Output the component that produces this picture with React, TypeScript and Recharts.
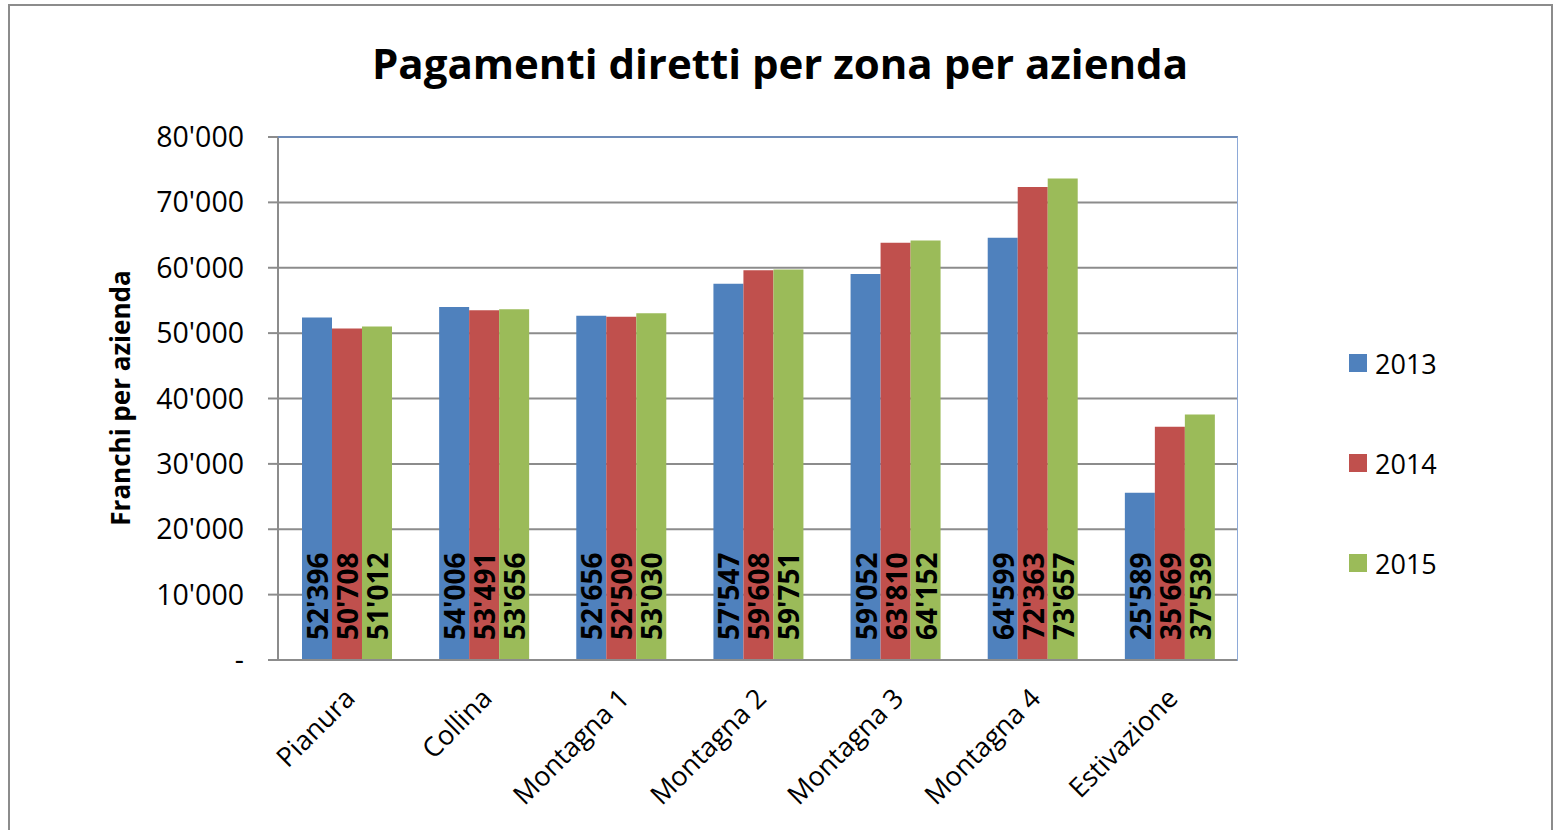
import React from "react";
import {
  BarChart,
  Bar,
  XAxis,
  YAxis,
  CartesianGrid,
  LabelList,
} from "recharts";

// Pagamenti diretti per zona, franchi per azienda
const zones = [
  "Pianura",
  "Collina",
  "Montagna 1",
  "Montagna 2",
  "Montagna 3",
  "Montagna 4",
  "Estivazione",
];
const values2013 = [52396, 54006, 52656, 57547, 59052, 64599, 25589];
const values2014 = [50708, 53491, 52509, 59608, 63810, 72363, 35669];
const values2015 = [51012, 53656, 53030, 59751, 64152, 73657, 37539];
const yTicks = [0, 10000, 20000, 30000, 40000, 50000, 60000, 70000, 80000];
const boundaryTicks = [0, 1, 2, 3, 4, 5, 6, 7];

const series = [
  { key: "y2013", name: "2013", color: "#4f81bd" },
  { key: "y2014", name: "2014", color: "#c0504d" },
  { key: "y2015", name: "2015", color: "#9bbb59" },
];

const chartData = zones.map((zone, i) => ({
  zone,
  y2013: values2013[i],
  y2014: values2014[i],
  y2015: values2015[i],
}));

const FONT = "'Open Sans', sans-serif";

const fmt = (v: number) =>
  v === 0 ? "-" : String(v).replace(/\B(?=(\d{3})+(?!\d))/g, "'");

function BarValue(props: any) {
  const { x, y, width, height, value } = props;
  const cx = x + width / 2;
  const by = y + height - 20;
  return (
    <text
      x={cx}
      y={by}
      transform={`rotate(-90 ${cx} ${by})`}
      textAnchor="start"
      dominantBaseline="central"
      fontFamily={FONT}
      fontWeight={700}
      fontSize={28}
      fill="#000"
    >
      {fmt(Number(value))}
    </text>
  );
}

function ZoneTick(props: any) {
  const { x, y, payload } = props;
  const tx = x + 10;
  const ty = y + 22;
  return (
    <text
      x={tx}
      y={ty}
      transform={`rotate(-45 ${tx} ${ty})`}
      textAnchor="end"
      fontFamily={FONT}
      fontSize={27}
      fill="#000"
    >
      {payload.value}
    </text>
  );
}

function YearLegend() {
  return (
    <div
      style={{
        position: "absolute",
        left: 1349,
        top: 313,
        fontFamily: FONT,
        fontSize: 27,
        color: "#000",
      }}
    >
      {series.map((s) => (
        <div
          key={s.key}
          style={{ display: "flex", alignItems: "center", height: 100 }}
        >
          <span
            style={{
              display: "inline-block",
              width: 18,
              height: 18,
              background: s.color,
              marginRight: 8,
            }}
          />
          {s.name}
        </div>
      ))}
    </div>
  );
}

export default function App() {
  return (
    <div
      style={{
        position: "absolute",
        left: 0,
        top: 0,
        width: 1554,
        height: 830,
        overflow: "hidden",
        background: "#fff",
      }}
    >
      <div
        style={{
          position: "absolute",
          left: 8,
          top: 4,
          width: 1541,
          height: 900,
          border: "2px solid #8c8c8c",
        }}
      />
      <div
        style={{
          position: "absolute",
          left: 0,
          width: 1560,
          top: 34,
          textAlign: "center",
          fontFamily: FONT,
          fontWeight: 700,
          fontSize: 42,
          color: "#000",
        }}
      >
        Pagamenti diretti per zona per azienda
      </div>
      <div
        style={{
          position: "absolute",
          left: 120,
          top: 398,
          transform: "translate(-50%, -50%) rotate(-90deg)",
          whiteSpace: "nowrap",
          fontFamily: FONT,
          fontWeight: 700,
          fontSize: 26,
          color: "#000",
        }}
      >
        Franchi per azienda
      </div>
      <BarChart
        width={1554}
        height={830}
        data={chartData}
        margin={{ top: 137, right: 316, bottom: 0, left: 178 }}
        barGap={0}
        barSize={30}
        style={{ position: "absolute", left: 0, top: 0 }}
      >
        <CartesianGrid
          xAxisId="zones"
          vertical={false}
          stroke="#8c8c8c"
          strokeWidth={2}
        />
        <XAxis
          xAxisId={0}
          type="number"
          domain={[0, 7]}
          ticks={boundaryTicks}
          tick={false}
          tickSize={10}
          tickLine={{ stroke: "#8c8c8c", strokeWidth: 2 }}
          axisLine={{ stroke: "#8c8c8c", strokeWidth: 2 }}
          height={10}
          allowDataOverflow
        />
        <XAxis
          xAxisId="zones"
          dataKey="zone"
          axisLine={false}
          tickLine={false}
          tick={<ZoneTick />}
          interval={0}
          height={160}
        />
        <YAxis
          domain={[0, 80000]}
          ticks={yTicks}
          tickFormatter={fmt}
          width={100}
          tickSize={10}
          tickMargin={24}
          axisLine={{ stroke: "#8c8c8c", strokeWidth: 2 }}
          tickLine={{ stroke: "#8c8c8c", strokeWidth: 2 }}
          tick={{ fontFamily: FONT, fontSize: 28.5, fill: "#000" }}
        />
        {series.map((s) => (
          <Bar
            key={s.key}
            xAxisId="zones"
            dataKey={s.key}
            name={s.name}
            fill={s.color}
            isAnimationActive={false}
          >
            <LabelList dataKey={s.key} content={<BarValue />} />
          </Bar>
        ))}
      </BarChart>
      <YearLegend />
      <div
        style={{
          position: "absolute",
          left: 278,
          top: 136,
          width: 959,
          height: 523,
          borderTop: "2px solid #6d8bb8",
          borderRight: "1px solid #8eaad8",
          pointerEvents: "none",
        }}
      />
    </div>
  );
}
